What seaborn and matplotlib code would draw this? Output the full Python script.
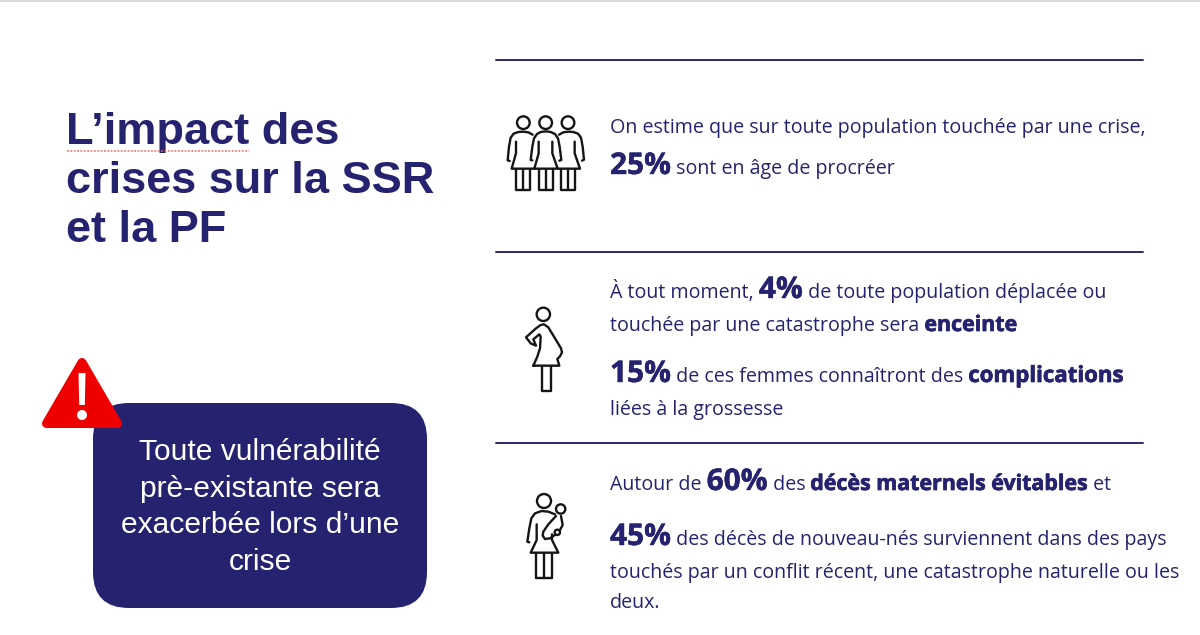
import numpy as np
import matplotlib
matplotlib.use("Agg")
import matplotlib.pyplot as plt
import matplotlib.patheffects as pe
from matplotlib.patches import FancyBboxPatch, Polygon, Circle
import seaborn as sns

NAVY = "#25236F"
TITLE_LINES = ["L’impact des", "crises sur la SSR", "et la PF"]
BOX_LINES = ["Toute vulnérabilité", "prè-existante sera", "exacerbée lors d’une", "crise"]
# runs: (text, style)  n = normal, p = big percentage, b / c = strong word
ROW_1 = [("On estime que sur toute population touchée par une crise,", "n")]
ROW_2 = [("25%", "p"), (" sont en âge de procréer", "n")]
ROW_3 = [("À tout moment, ", "n"), ("4%", "p"), (" de toute population déplacée ou", "n")]
ROW_4 = [("touchée par une catastrophe sera ", "n"), ("enceinte", "b")]
ROW_5 = [("15%", "p"), (" de ces femmes connaîtront des ", "n"), ("complications", "c")]
ROW_6 = [("liées à la grossesse", "n")]
ROW_7 = [("Autour de ", "n"), ("60%", "p"), (" des ", "n"), ("décès maternels évitables", "b"), (" et", "n")]
ROW_8 = [("45%", "p"), (" des décès de nouveau-nés surviennent dans des pays", "n")]
ROW_9 = [("touchés par un conflit récent, une catastrophe naturelle ou les", "n")]
ROW_10 = [("deux.", "n")]
ROWS = [ROW_1, ROW_2, ROW_3, ROW_4, ROW_5, ROW_6, ROW_7, ROW_8, ROW_9, ROW_10]
BASELINES = [133, 174, 298, 331, 382, 415, 490, 545, 578, 608]

sns.set_theme(style="white")
plt.rcParams["font.family"] = ["Open Sans", "DejaVu Sans"]

fig = plt.figure(figsize=(12, 6.35), dpi=100, facecolor="white")
ax = fig.add_axes([0, 0, 1, 1])
ax.set_xlim(0, 1200)
ax.set_ylim(635, 0)
ax.axis("off")

# top edge and separators
ax.plot([0, 1200], [0.5, 0.5], color="#d9d9d9", lw=1.5)
for y in (60, 252, 443):
    ax.plot([496, 1143], [y, y], color="#2B2877", lw=1.4)

# title
for i, line in enumerate(TITLE_LINES):
    ax.text(66, 144 + 49 * i, line, family="Liberation Sans", weight="bold",
            fontsize=32.5, color=NAVY, va="baseline")
ax.plot([67, 249], [150.5, 150.5], color="#f06a60", lw=1.1, ls=(0, (1.2, 1.0)), zorder=6)

# callout box
ax.add_patch(FancyBboxPatch((93 + 36, 403 + 36), 334 - 72, 205 - 72,
                            boxstyle="round,pad=36,rounding_size=36",
                            fc=NAVY, ec="none", zorder=2))
for i, line in enumerate(BOX_LINES):
    ax.text(260, 460 + 36.7 * i, line, family="Liberation Sans", fontsize=21.6,
            color="white", ha="center", va="baseline", zorder=3)

# warning sign
ax.add_patch(Polygon([(82, 362.5), (46.5, 423.5), (117.5, 423.5)], closed=True, fc="#EE0000",
                     ec="#EE0000", lw=6.5, joinstyle="round", zorder=4))
ax.add_patch(Polygon([(78.5, 373), (85.5, 373), (84.8, 405), (79.2, 405)], closed=True,
                     fc="white", ec="none", zorder=5))
ax.add_patch(Circle((82, 415), 5, fc="white", ec="none", zorder=5))

ICON = "#151515"
LW = 1.7


def icon_line(pts, ox, oy, dx=0):
    xs = [ox + (p[0] + dx) / 3 for p in pts]
    ys = [oy + p[1] / 3 for p in pts]
    ax.plot(xs, ys, color=ICON, lw=LW, solid_joinstyle="round", solid_capstyle="round")


def icon_circle(c, r, ox, oy):
    ax.add_patch(Circle((ox + c[0] / 3, oy + c[1] / 3), r / 3, fc="white", ec=ICON, lw=LW))


def legs(x0, x1, y0, y1, ox, oy, center=True):
    icon_line([(x0, y0), (x0, y1), (x1, y1), (x1, y0)], ox, oy)
    if center:
        icon_line([((x0 + x1) / 2, y0), ((x0 + x1) / 2, y1)], ox, oy)


# three women
ox, oy = 490, 90
# left woman
icon_line([(128, 134), (115, 127), (100, 125), (85, 126), (71, 131), (62, 143), (57, 170), (53, 211), (59, 213)], ox, oy)
icon_line([(78, 155), (78, 190), (65, 236), (133, 236)], ox, oy)
legs(78, 120, 236, 300, ox, oy)
icon_circle((100, 98), 19, ox, oy)
# right woman
icon_line([(207, 134), (220, 127), (235, 125), (250, 126), (264, 131), (273, 143), (278, 170), (282, 209), (276, 212)], ox, oy)
icon_line([(254, 155), (254, 190), (270, 236), (203, 236)], ox, oy)
legs(213, 256, 236, 300, ox, oy)
icon_circle((234, 98), 19, ox, oy)
# middle woman
icon_line([(127, 211), (122, 210), (127, 170), (132, 145), (141, 132), (152, 126), (167, 124), (182, 126), (195, 132), (204, 145), (209, 170), (214, 210), (208, 212)], ox, oy)
icon_line([(146, 155), (146, 190), (133, 236), (203, 236), (187, 190), (187, 155)], ox, oy)
legs(146, 188, 236, 300, ox, oy)
icon_circle((167, 98), 19, ox, oy)

# pregnant woman
ox, oy = 500, 295
icon_circle((130, 58), 20, ox, oy)
icon_line([(100, 212), (112, 185), (120, 160), (122, 125), (118, 118), (100, 133), (108, 152), (92, 145), (78, 127), (108, 100), (122, 90), (132, 88), (145, 97), (165, 130), (183, 160), (186, 172), (180, 184), (172, 192), (178, 212), (100, 212)], ox, oy)
legs(127, 153, 212, 288, ox, oy, center=False)

# woman with baby
ox, oy = 500, 485
icon_circle((132, 48), 21, ox, oy)
icon_line([(165, 88), (145, 80), (125, 78), (105, 85), (94, 100), (88, 130), (82, 170), (88, 172)], ox, oy)
icon_line([(110, 118), (110, 165), (92, 203), (175, 203), (156, 165), (156, 148)], ox, oy)
icon_line([(168, 93), (145, 118), (130, 140), (128, 152), (135, 162), (150, 160), (165, 150)], ox, oy)
icon_line([(183, 93), (188, 120), (180, 135)], ox, oy)
legs(108, 155, 203, 278, ox, oy)
icon_circle((182, 72), 14, ox, oy)
icon_circle((172, 142), 8, ox, oy)

# body text
STYLES = {
    "n": dict(fontsize=14.1, weight="normal"),
    "p": dict(fontsize=21.5, weight="bold"),
    "b": dict(fontsize=15.4, weight="bold"),
    "c": dict(fontsize=16.0, weight="bold"),
}
STROKE = {"p": 0.3, "b": 0.5, "c": 0.5}
renderer = fig.canvas.get_renderer()


def width(text, kw):
    # measured between two marks so that leading and trailing spaces count
    a = ax.text(0, 0, "|" + text + "|", **kw)
    b = ax.text(0, 0, "||", **kw)
    w = a.get_window_extent(renderer).width - b.get_window_extent(renderer).width
    a.remove()
    b.remove()
    return w


for runs, base in zip(ROWS, BASELINES):
    x = 610
    for text, st in runs:
        kw = STYLES[st]
        t = ax.text(x, base, text, color=NAVY, va="baseline", ha="left", **kw)
        if st in STROKE:
            t.set_path_effects([pe.withStroke(linewidth=STROKE[st], foreground=NAVY)])
        x += width(text, kw)

fig.savefig("out.png", dpi=100)
